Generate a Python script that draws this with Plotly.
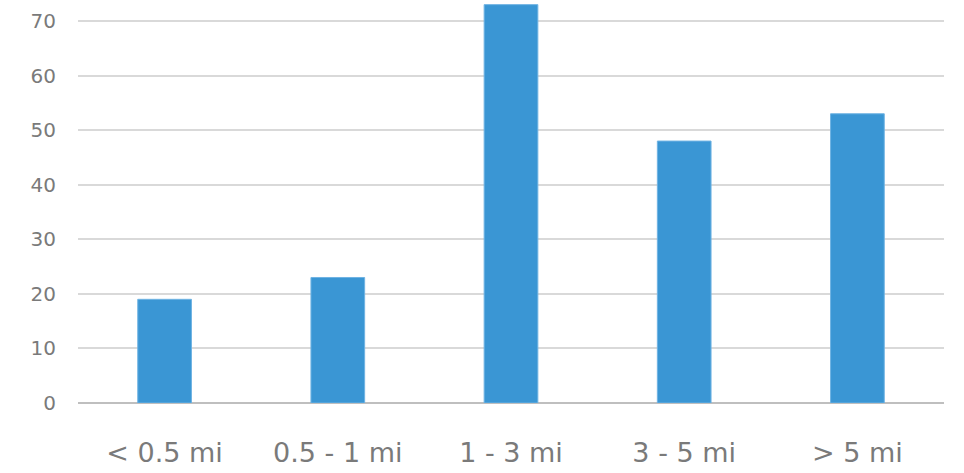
import plotly.graph_objects as go

categories = ["< 0.5 mi", "0.5 - 1 mi", "1 - 3 mi", "3 - 5 mi", "> 5 mi"]
values = [19, 23, 73, 48, 53]
y_ticks = [0, 10, 20, 30, 40, 50, 60, 70]

fig = go.Figure(go.Bar(
    x=categories, y=values,
    marker=dict(color="#3A96D4", line=dict(color="#6FB3E3", width=1)),
    width=0.31,
))

fig.update_layout(
    width=964, height=473,
    margin=dict(l=78, r=20, t=0, b=70),
    plot_bgcolor="white", paper_bgcolor="white",
    showlegend=False,
    font=dict(family="DejaVu Sans", color="#7a7a7a"),
)
fig.update_xaxes(
    showgrid=False, showline=False, ticks="", automargin=False,
    tickfont=dict(size=27, color="#7a7a7a"),
    ticklabelstandoff=31,
)
fig.update_yaxes(
    range=[0, 73.85], tickvals=y_ticks, automargin=False,
    showgrid=True, gridcolor="#D9D9D9", gridwidth=1.5,
    zeroline=True, zerolinecolor="#BFBFBF", zerolinewidth=2,
    tickfont=dict(size=20, color="#7a7a7a"),
    ticklabelstandoff=21,
)

fig.write_html("out.html", config={"displayModeBar": False},
               post_script="document.body.style.margin='0';")
